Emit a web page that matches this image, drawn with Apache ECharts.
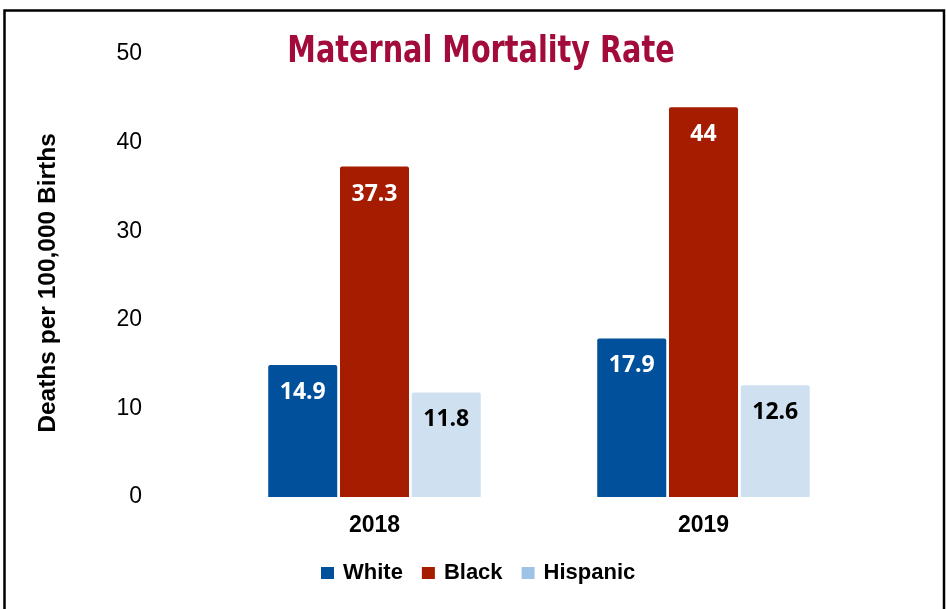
<!DOCTYPE html>
<html>
<head>
<meta charset="utf-8">
<script src="https://cdn.jsdelivr.net/npm/echarts@6/dist/echarts.min.js"></script>
<style>
  html, body { margin: 0; padding: 0; background: #fff; }
  #chart { width: 946px; height: 609px; }
</style>
</head>
<body>
<div id="chart"></div>
<script>
const years = ['2018', '2019'];
const seriesNames = ['White', 'Black', 'Hispanic'];
const white = [14.9, 17.9];
const black = [37.3, 44];
const hispanic = [11.8, 12.6];
const yTicks = [0, 10, 20, 30, 40, 50];

const colors = ['#00509B', '#A51C00', '#CFE0F1'];
const legendColors = ['#00509B', '#A51C00', '#9DC3E6'];
const labelColors = ['#ffffff', '#ffffff', '#000000'];
const values = [white, black, hispanic];

const chart = echarts.init(document.getElementById('chart'));

const series = seriesNames.map((name, i) => ({
  name: name,
  type: 'bar',
  data: values[i],
  barWidth: 69,
  barGap: '4%',
  itemStyle: { color: colors[i], borderRadius: [2, 2, 0, 0] },
  label: {
    show: true,
    position: 'insideTop',
    distance: 16,
    color: labelColors[i],
    fontFamily: "'Open Sans', sans-serif",
    fontWeight: 'bold',
    fontSize: 23
  }
}));

chart.setOption({
  animation: false,
  backgroundColor: '#ffffff',
  grid: { left: 210, right: 78, top: 54, bottom: 112 },
  legend: {
    data: seriesNames.map((n, i) => ({ name: n, itemStyle: { color: legendColors[i] } })),
    left: 321,
    top: 562,
    padding: 0,
    icon: 'rect',
    itemWidth: 13,
    itemHeight: 12,
    itemGap: 19,
    textStyle: {
      color: '#000',
      fontFamily: "'Liberation Sans', Arial, sans-serif",
      fontWeight: 'bold',
      fontSize: 22,
      padding: [0, 0, 0, 4]
    }
  },
  xAxis: {
    type: 'category',
    data: years,
    axisLine: { show: false },
    axisTick: { show: false },
    axisLabel: {
      margin: 17,
      color: '#000',
      fontFamily: "'Liberation Sans', Arial, sans-serif",
      fontWeight: 'bold',
      fontSize: 23
    }
  },
  yAxis: {
    type: 'value',
    min: yTicks[0],
    max: yTicks[yTicks.length - 1],
    interval: 10,
    axisLine: { show: false },
    axisTick: { show: false },
    splitLine: { show: false },
    axisLabel: {
      margin: 68,
      color: '#000',
      fontFamily: "'Liberation Sans', Arial, sans-serif",
      fontSize: 23
    }
  },
  graphic: [
    {
      type: 'rect',
      shape: { x: 4.5, y: 10.5, width: 939.5, height: 640 },
      style: { fill: 'none', stroke: '#000', lineWidth: 2.5 },
      silent: true
    },
    {
      type: 'text',
      x: 481,
      y: 33,
      scaleX: 0.84,
      style: {
        text: 'Maternal Mortality Rate',
        fill: '#A20B3A',
        font: "bold 38px 'Liberation Sans Narrow', 'DejaVu Sans Condensed', sans-serif",
        align: 'center',
        verticalAlign: 'top'
      },
      silent: true
    },
    {
      type: 'text',
      x: 48,
      y: 283,
      rotation: Math.PI / 2,
      style: {
        text: 'Deaths per 100,000 Births',
        fill: '#000',
        font: "bold 24.5px 'Liberation Sans', Arial, sans-serif",
        align: 'center',
        verticalAlign: 'middle'
      },
      silent: true
    }
  ],
  series: series
});
</script>
</body>
</html>
